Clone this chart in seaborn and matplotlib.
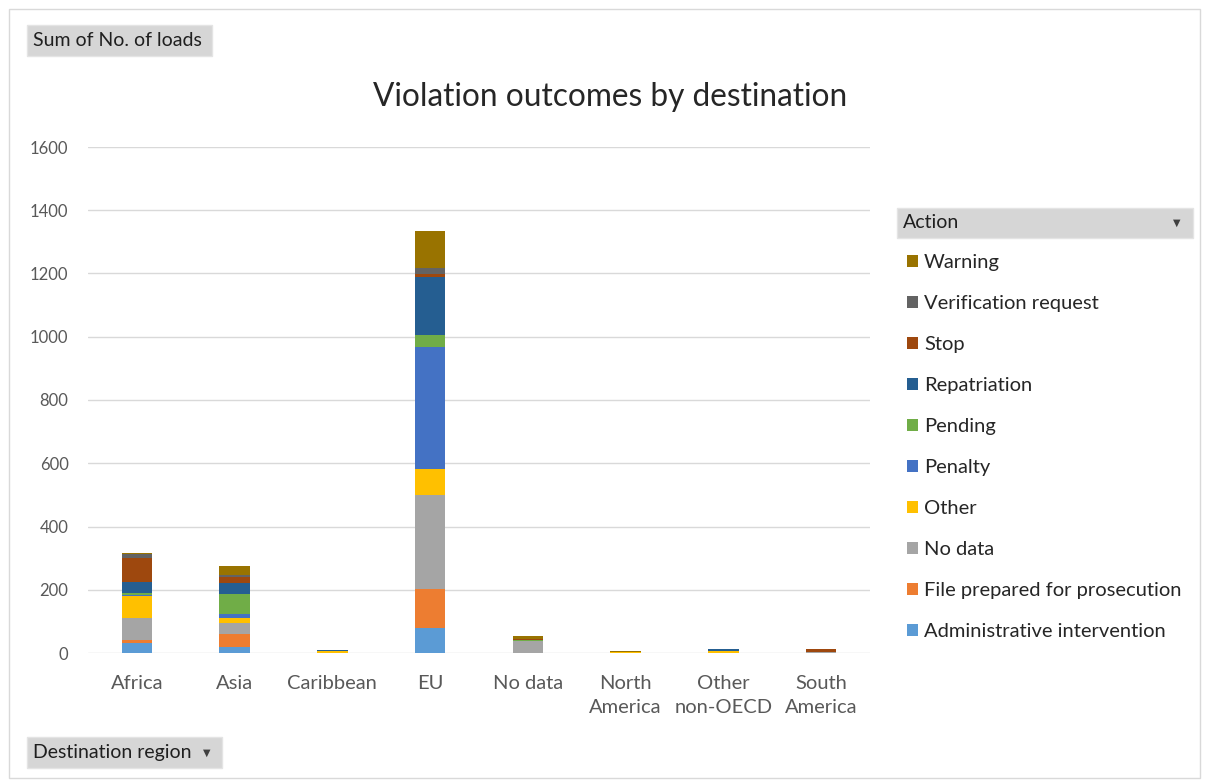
import pandas as pd
import matplotlib.pyplot as plt
import seaborn as sns
from matplotlib.patches import Rectangle

# Destination regions (x axis) and their printed labels
regions = ["Africa", "Asia", "Caribbean", "EU", "No data",
           "North America", "Other non-OECD", "South America"]
region_labels = ["Africa", "Asia", "Caribbean", "EU", "No data",
                 "North\nAmerica", "Other\nnon-OECD", "South\nAmerica"]

# Actions, top of the stack first
actions = ["Warning", "Verification request", "Stop", "Repatriation", "Pending",
           "Penalty", "Other", "No data", "File prepared for prosecution",
           "Administrative intervention"]

# Sum of No. of loads per action, one value per region
warning = [5, 28, 0, 117, 8, 5, 0, 0]
verification_request = [12, 6, 0, 18, 0, 0, 0, 2]
stop = [76, 18, 0, 11, 4, 0, 0, 9]
repatriation = [35, 36, 5, 184, 0, 0, 6, 0]
pending = [5, 63, 0, 35, 2, 0, 0, 0]
penalty = [4, 13, 0, 387, 0, 0, 0, 0]
other = [68, 15, 6, 81, 0, 2, 7, 0]
no_data = [70, 36, 0, 300, 39, 0, 0, 3]
file_prepared = [10, 40, 0, 121, 0, 0, 0, 0]
admin_intervention = [32, 19, 0, 80, 0, 0, 0, 0]

colors = ["#997300", "#636363", "#9E480E", "#255E91", "#70AD47",
          "#4472C4", "#FFC000", "#A5A5A5", "#ED7D31", "#5B9BD5"]

series = [warning, verification_request, stop, repatriation, pending,
          penalty, other, no_data, file_prepared, admin_intervention]

rows = []
for action, vals in zip(actions, series):
    for region, v in zip(regions, vals):
        rows.append({"Destination region": region, "Action": action, "Loads": v})
df = pd.DataFrame(rows)

sns.set_theme(style="white")
plt.rcParams['font.family'] = ['Lato', 'DejaVu Sans']

W, H = 1209, 783
fig = plt.figure(figsize=(W / 100, H / 100), dpi=100)
ax = fig.add_axes([88 / W, 1 - 653 / H, (870 - 88) / W, (653 - 147) / H])

sns.histplot(data=df, x="Destination region", hue="Action", weights="Loads",
             multiple="stack", discrete=True, shrink=0.31, hue_order=actions,
             palette=colors, alpha=1, linewidth=0, ax=ax)

ax.set_xlim(-0.5, 7.5)
ax.set_ylim(0, 1600)
ax.set_yticks(range(0, 1601, 200))
ax.set_xticks(range(len(regions)), region_labels)
ax.set_xlabel("")
ax.set_ylabel("")
ax.yaxis.grid(True, color="#D9D9D9", linewidth=1)
ax.set_axisbelow(True)
for s in ax.spines.values():
    s.set_visible(False)
ax.tick_params(axis="both", length=0, colors="#595959")
ax.tick_params(axis="y", pad=14, labelsize=12)
ax.tick_params(axis="x", pad=16, labelsize=14.5)
for lbl in ax.get_xticklabels():
    lbl.set_linespacing(1.45)

sns.move_legend(ax, "upper left", bbox_to_anchor=(897 / W, 1 - 244 / H),
                bbox_transform=fig.transFigure, title=None, frameon=False,
                fontsize=14.5, labelspacing=1.19, handlelength=0.55,
                handleheight=0.55, handletextpad=0.3, borderpad=0)
for t in ax.get_legend().get_texts():
    t.set_color("#262626")

fig.text(610 / W, 1 - 97 / H, "Violation outcomes by destination",
         ha="center", va="center", fontsize=22.8, color="#262626")


def button(x0, y0, x1, y1, label, arrow_x=None):
    fig.patches.append(Rectangle((x0 / W, 1 - y1 / H), (x1 - x0) / W, (y1 - y0) / H,
                                 transform=fig.transFigure, facecolor="#D6D6D6",
                                 edgecolor="#E4E4E4", linewidth=1))
    fig.text((x0 + 6) / W, 1 - (y0 + y1) / 2 / H, label, ha="left", va="center",
             fontsize=14, color="#1F1F1F")
    if arrow_x is not None:
        fig.text(arrow_x / W, 1 - (y0 + y1) / 2 / H, "\u25BC", ha="center",
                 va="center", fontsize=7, color="#404040", family=["DejaVu Sans"])


button(27, 25, 212, 56, "Sum of No. of loads")
button(27, 737, 222, 768, "Destination region", arrow_x=207)
button(897, 208, 1193, 238, "Action", arrow_x=1177)

# outer chart frame
fig.patches.append(Rectangle((9 / W, 1 - 778 / H), (1200 - 9) / W, (778 - 9) / H,
                             transform=fig.transFigure, facecolor="none",
                             edgecolor="#D9D9D9", linewidth=1))

plt.savefig("out.png", dpi=100)
